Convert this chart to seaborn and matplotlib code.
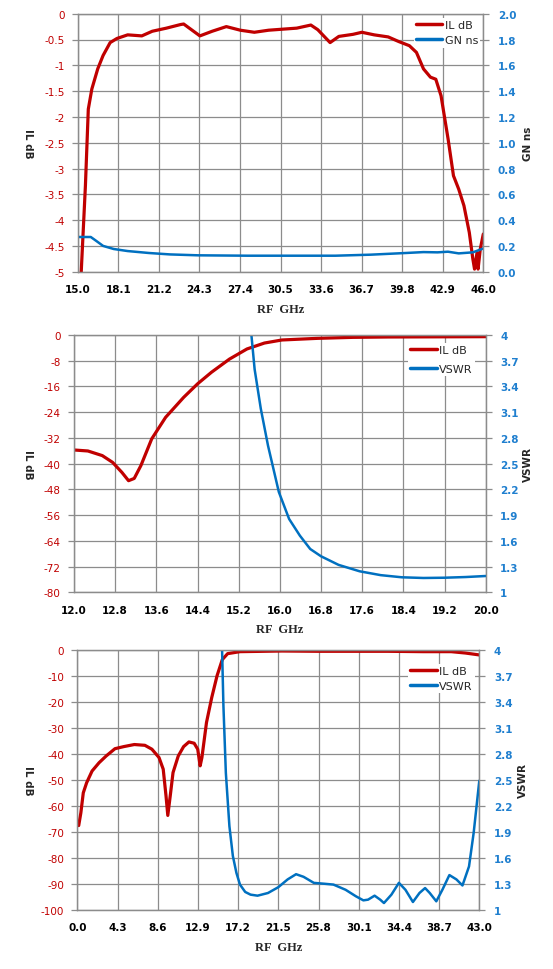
import numpy as np
import pandas as pd
import matplotlib
matplotlib.use("Agg")
import matplotlib.pyplot as plt
import seaborn as sns

sns.set_style("white")
plt.rcParams['font.family'] = ['DejaVu Sans']

RED = "#C00000"
BLUE = "#0070C0"
TICKBLUE = "#1F7FCF"
GRID = "#8C8C8C"

# ---------------- Panel 1 data ----------------
p1_freq = [15.1, 15.27, 15.59, 15.81, 16.08, 16.53, 16.94, 17.48, 18.0, 18.82, 19.9, 20.7,
           21.78, 22.86, 23.1, 23.8, 24.34, 25.28, 26.36, 27.43, 28.5, 29.59, 30.66, 31.74,
           32.82, 33.35, 34.29, 34.96, 36.04, 36.72, 37.66, 38.73, 39.54, 40.35, 40.89,
           41.43, 41.96, 42.37, 42.77, 43.31, 43.72, 44.12, 44.52, 44.93, 45.2, 45.33,
           45.52, 45.6, 45.77, 46.0]
p1_il = [-6.0, -5.0, -3.33, -1.85, -1.46, -1.07, -0.81, -0.56, -0.48, -0.41, -0.43, -0.34,
         -0.28, -0.21, -0.20, -0.33, -0.43, -0.34, -0.25, -0.32, -0.36, -0.32, -0.30, -0.28,
         -0.22, -0.31, -0.56, -0.44, -0.40, -0.36, -0.41, -0.45, -0.54, -0.62, -0.75,
         -1.07, -1.23, -1.27, -1.59, -2.43, -3.14, -3.40, -3.72, -4.24, -4.75, -4.95,
         -4.63, -4.95, -4.56, -4.27]
p1_gfreq = [15.0, 16.0, 16.4, 16.94, 17.75, 18.82, 20.44, 22.05, 24.2, 27.97, 32.0, 34.7,
            37.4, 40.08, 41.43, 42.5, 43.3, 44.12, 45.2, 46.0]
p1_gn = [0.269, 0.269, 0.24, 0.20, 0.176, 0.16, 0.145, 0.134, 0.127, 0.124, 0.124, 0.124,
         0.132, 0.145, 0.152, 0.150, 0.155, 0.142, 0.150, 0.18]
p1_xticks = [15.0, 18.1, 21.2, 24.3, 27.4, 30.5, 33.6, 36.7, 39.8, 42.9, 46.0]
p1_yl = [0, -0.5, -1, -1.5, -2, -2.5, -3, -3.5, -4, -4.5, -5]
p1_yl_lbl = ["0", "-0.5", "-1", "-1.5", "-2", "-2.5", "-3", "-3.5", "-4", "-4.5", "-5"]
p1_yr = [0.0, 0.2, 0.4, 0.6, 0.8, 1.0, 1.2, 1.4, 1.6, 1.8, 2.0]
p1_yr_lbl = ["0.0", "0.2", "0.4", "0.6", "0.8", "1.0", "1.2", "1.4", "1.6", "1.8", "2.0"]

# ---------------- Panel 2 data ----------------
p2_freq = [12.0, 12.27, 12.55, 12.75, 12.93, 13.06, 13.17, 13.3, 13.51, 13.78, 14.13, 14.4,
           14.67, 15.02, 15.36, 15.7, 16.04, 16.73, 17.42, 18.1, 20.0]
p2_il = [-35.75, -36.06, -37.5, -39.6, -42.7, -45.3, -44.6, -40.6, -32.3, -25.6, -19.4,
         -15.2, -11.6, -7.5, -4.35, -2.5, -1.55, -1.04, -0.73, -0.62, -0.52]
p2_vfreq = [15.4, 15.51, 15.63, 15.77, 15.98, 16.18, 16.39, 16.59, 16.8, 17.14, 17.55,
            17.96, 18.37, 18.79, 19.2, 19.61, 20.0]
p2_vswr = [4.3, 3.60, 3.14, 2.71, 2.17, 1.855, 1.66, 1.505, 1.42, 1.32, 1.245, 1.20,
           1.175, 1.167, 1.17, 1.178, 1.19]
p2_xticks = [12.0, 12.8, 13.6, 14.4, 15.2, 16.0, 16.8, 17.6, 18.4, 19.2, 20.0]
p2_yl = [0, -8, -16, -24, -32, -40, -48, -56, -64, -72, -80]
p2_yl_lbl = ["0", "-8", "-16", "-24", "-32", "-40", "-48", "-56", "-64", "-72", "-80"]
p2_yr = [1, 1.3, 1.6, 1.9, 2.2, 2.5, 2.8, 3.1, 3.4, 3.7, 4]
p2_yr_lbl = ["1", "1.3", "1.6", "1.9", "2.2", "2.5", "2.8", "3.1", "3.4", "3.7", "4"]

# ---------------- Panel 3 data ----------------
p3_freq = [0.15, 0.38, 0.64, 1.0, 1.58, 2.33, 3.09, 4.03, 4.97, 6.1, 7.23, 7.98, 8.74,
           9.19, 9.49, 9.68, 9.94, 10.24, 10.8, 11.37, 11.94, 12.5, 12.88, 13.14, 13.33,
           13.82, 14.38, 14.95, 15.51, 16.08, 17.4, 21.9, 25.7, 29.4, 33.2, 37.0, 40.0,
           41.5, 43.0]
p3_il = [-67.6, -62.7, -55.0, -51.1, -46.6, -43.4, -40.8, -38.0, -37.2, -36.4, -36.7,
         -38.2, -41.4, -45.9, -56.2, -63.7, -56.2, -47.2, -40.8, -37.2, -35.4, -35.9,
         -38.2, -44.6, -41.4, -27.9, -18.3, -9.9, -3.7, -1.4, -0.64, -0.39, -0.5, -0.5,
         -0.5, -0.64, -0.64, -1.16, -1.9]
p3_vfreq = [15.42, 15.63, 15.89, 16.27, 16.64, 17.02, 17.4, 17.96, 18.53, 19.28, 20.4,
            21.5, 22.5, 23.4, 24.2, 25.3, 26.4, 27.4, 28.7, 29.8, 30.6, 31.1, 31.8, 32.4,
            32.8, 33.6, 34.4, 35.1, 35.9, 36.6, 37.2, 37.7, 38.4, 39.05, 39.8, 40.55,
            41.2, 41.9, 42.4, 43.0]
p3_vswr = [4.3, 3.355, 2.58, 1.965, 1.62, 1.425, 1.29, 1.205, 1.174, 1.162, 1.193, 1.26,
           1.35, 1.41, 1.38, 1.31, 1.30, 1.29, 1.23, 1.155, 1.108, 1.116, 1.162, 1.116,
           1.077, 1.174, 1.31, 1.23, 1.089, 1.193, 1.25, 1.193, 1.097, 1.23, 1.40, 1.35,
           1.28, 1.50, 1.89, 2.49]
p3_xticks = [0.0, 4.3, 8.6, 12.9, 17.2, 21.5, 25.8, 30.1, 34.4, 38.7, 43.0]
p3_yl = [0, -10, -20, -30, -40, -50, -60, -70, -80, -90, -100]
p3_yl_lbl = ["0", "-10", "-20", "-30", "-40", "-50", "-60", "-70", "-80", "-90", "-100"]
p3_yr = [1, 1.3, 1.6, 1.9, 2.2, 2.5, 2.8, 3.1, 3.4, 3.7, 4]
p3_yr_lbl = ["1", "1.3", "1.6", "1.9", "2.2", "2.5", "2.8", "3.1", "3.4", "3.7", "4"]

W, H = 553, 970
fig = plt.figure(figsize=(W / 100, H / 100), dpi=100)


def panel(box, fx, fy, gx, gy, xt, yl, yll, yr, yrl, rname, lab_l_x, lab_r_x,
          leg_xy, leg_spacing):
    x0, y0, x1, y1 = box
    ax = fig.add_axes([x0 / W, (H - y1) / H, (x1 - x0) / W, (y1 - y0) / H])
    ax2 = ax.twinx()
    sns.lineplot(x=fx, y=fy, ax=ax, color=RED, lw=2.3, label="IL dB", legend=False, sort=False)
    sns.lineplot(x=gx, y=gy, ax=ax2, color=BLUE, lw=1.8, label=rname, legend=False, sort=False)
    ax.set_xlim(xt[0], xt[-1])
    ax.set_ylim(yl[-1], yl[0])
    ax2.set_ylim(yr[0], yr[-1])
    ax.set_xticks(xt)
    ax.set_xticklabels([f"{v:.1f}" for v in xt], fontsize=7.5, fontweight="bold", color="black")
    ax.set_yticks(yl)
    ax.set_yticklabels(yll, fontsize=7.5, color=RED)
    ax2.set_yticks(yr)
    ax2.set_yticklabels(yrl, fontsize=7.5, fontweight="bold", color=TICKBLUE)
    ax.grid(True, color=GRID, lw=0.9)
    ax.set_axisbelow(True)
    for a in (ax, ax2):
        for s in a.spines.values():
            s.set_color(GRID)
            s.set_linewidth(0.9)
    ax.tick_params(axis="x", length=4, width=0.9, color=GRID, pad=5)
    ax.tick_params(axis="y", length=4, width=0.9, color=GRID, pad=5.5)
    ax2.tick_params(axis="y", length=4, width=0.9, color=GRID, pad=6.5)

    ax.set_ylabel("IL dB", rotation=270, fontsize=7.5, fontweight="bold",
                  ha="center", va="center")
    ax.yaxis.set_label_coords((lab_l_x - x0) / (x1 - x0), 0.5)
    ax2.set_ylabel(rname, rotation=90, fontsize=7.5, fontweight="bold",
                   ha="center", va="center")
    ax2.yaxis.set_label_coords((lab_r_x - x0) / (x1 - x0), 0.5)
    ax.set_xlabel("RF  GHz", fontsize=9, fontweight="bold", family="Liberation Serif",
                  labelpad=6)

    h1, l1 = ax.get_legend_handles_labels()
    h2, l2 = ax2.get_legend_handles_labels()
    lx, ly = leg_xy
    leg = ax2.legend(h1 + h2, l1 + l2, loc="upper left", fontsize=8, frameon=True,
                     facecolor="white", edgecolor="none", framealpha=1, borderpad=0.2,
                     handlelength=2.4, handletextpad=0.2, labelspacing=leg_spacing,
                     bbox_to_anchor=(lx / W, 1 - ly / H), bbox_transform=fig.transFigure,
                     borderaxespad=0, fancybox=False)
    for line in leg.get_lines():
        line.set_linewidth(2.5)
    return ax, ax2


panel((77.7, 14.7, 483.3, 272.7), p1_freq, p1_il, p1_gfreq, p1_gn, p1_xticks,
      p1_yl, p1_yl_lbl, p1_yr, p1_yr_lbl, "GN ns", 28, 528, (413.5, 18.5), 0.5)
panel((74, 336, 485.7, 593.3), p2_freq, p2_il, p2_vfreq, p2_vswr, p2_xticks,
      p2_yl, p2_yl_lbl, p2_yr, p2_yr_lbl, "VSWR", 28, 528, (407.8, 344.0), 0.8)
panel((77.3, 651, 479.3, 910.7), p3_freq, p3_il, p3_vfreq, p3_vswr, p3_xticks,
      p3_yl, p3_yl_lbl, p3_yr, p3_yr_lbl, "VSWR", 28, 523, (407.8, 665.0), 0.4)

fig.savefig("out.png", dpi=100, facecolor="white")
